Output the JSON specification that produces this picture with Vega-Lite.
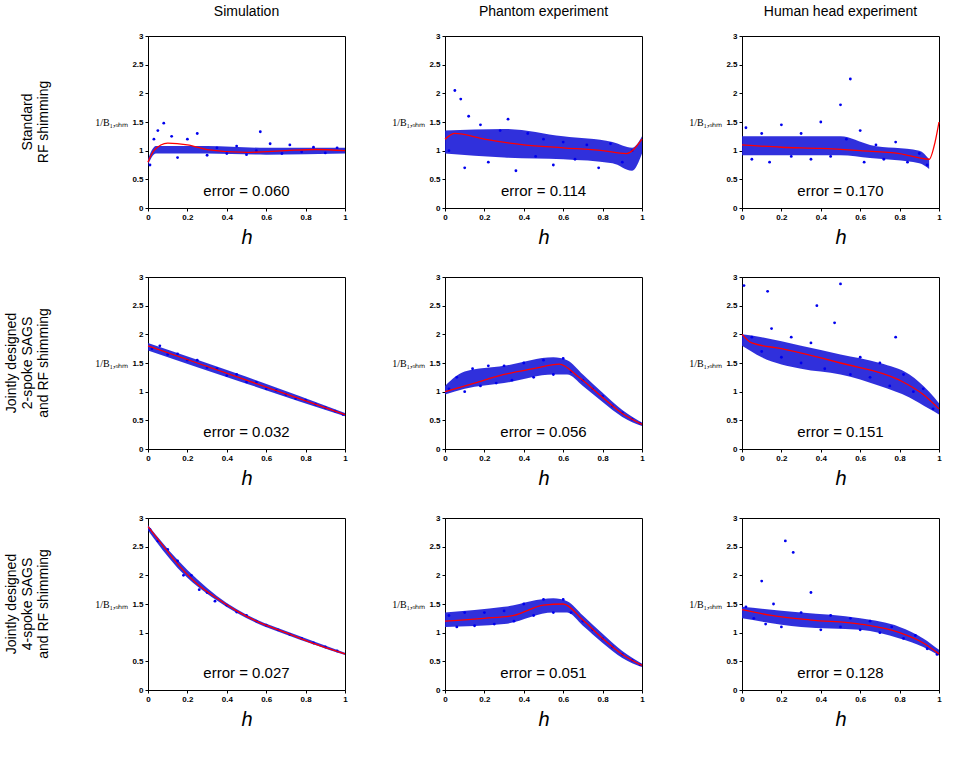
{
  "$schema": "https://vega.github.io/schema/vega-lite/v6.json",
  "background": "white",
  "padding": {"left": 5, "top": 5, "right": 5, "bottom": 5},
  "data": {"values": [
    {"r":"A","c":"S","k":"e","t":"error = 0.060"},
    {"r":"A","c":"P","k":"e","t":"error = 0.114"},
    {"r":"A","c":"H","k":"e","t":"error = 0.170"},
    {"r":"B","c":"S","k":"e","t":"error = 0.032"},
    {"r":"B","c":"P","k":"e","t":"error = 0.056"},
    {"r":"B","c":"H","k":"e","t":"error = 0.151"},
    {"r":"C","c":"S","k":"e","t":"error = 0.027"},
    {"r":"C","c":"P","k":"e","t":"error = 0.051"},
    {"r":"C","c":"H","k":"e","t":"error = 0.128"},

    {"r":"A","c":"S","k":"b","h":0,"v":0.75,"v2":0.85},{"r":"A","c":"S","k":"b","h":0.04,"v":0.95,"v2":1.08},{"r":"A","c":"S","k":"b","h":0.3,"v":0.95,"v2":1.08},{"r":"A","c":"S","k":"b","h":0.6,"v":0.93,"v2":1.05},{"r":"A","c":"S","k":"b","h":1,"v":0.95,"v2":1.05},
    {"r":"A","c":"P","k":"b","h":0,"v":0.95,"v2":1.35},{"r":"A","c":"P","k":"b","h":0.3,"v":0.88,"v2":1.38},{"r":"A","c":"P","k":"b","h":0.6,"v":0.85,"v2":1.25},{"r":"A","c":"P","k":"b","h":0.85,"v":0.78,"v2":1.15},{"r":"A","c":"P","k":"b","h":0.95,"v":0.65,"v2":1.05},{"r":"A","c":"P","k":"b","h":1,"v":0.95,"v2":1.25},
    {"r":"A","c":"H","k":"b","h":0,"v":0.92,"v2":1.25},{"r":"A","c":"H","k":"b","h":0.5,"v":0.92,"v2":1.25},{"r":"A","c":"H","k":"b","h":0.65,"v":0.87,"v2":1.1},{"r":"A","c":"H","k":"b","h":0.9,"v":0.78,"v2":1.0},{"r":"A","c":"H","k":"b","h":0.95,"v":0.68,"v2":0.85},
    {"r":"B","c":"S","k":"b","h":0,"v":1.72,"v2":1.85},{"r":"B","c":"S","k":"b","h":0.5,"v":1.14,"v2":1.26},{"r":"B","c":"S","k":"b","h":1,"v":0.57,"v2":0.63},
    {"r":"B","c":"P","k":"b","h":0,"v":0.95,"v2":1.1},{"r":"B","c":"P","k":"b","h":0.1,"v":1.05,"v2":1.35},{"r":"B","c":"P","k":"b","h":0.3,"v":1.15,"v2":1.45},{"r":"B","c":"P","k":"b","h":0.55,"v":1.3,"v2":1.6},{"r":"B","c":"P","k":"b","h":0.62,"v":1.3,"v2":1.55},{"r":"B","c":"P","k":"b","h":0.7,"v":1.1,"v2":1.3},{"r":"B","c":"P","k":"b","h":0.8,"v":0.82,"v2":0.98},{"r":"B","c":"P","k":"b","h":0.9,"v":0.56,"v2":0.68},{"r":"B","c":"P","k":"b","h":1,"v":0.4,"v2":0.46},
    {"r":"B","c":"H","k":"b","h":0,"v":1.8,"v2":2.0},{"r":"B","c":"H","k":"b","h":0.1,"v":1.6,"v2":1.95},{"r":"B","c":"H","k":"b","h":0.3,"v":1.4,"v2":1.8},{"r":"B","c":"H","k":"b","h":0.5,"v":1.3,"v2":1.65},{"r":"B","c":"H","k":"b","h":0.7,"v":1.1,"v2":1.5},{"r":"B","c":"H","k":"b","h":0.85,"v":0.9,"v2":1.3},{"r":"B","c":"H","k":"b","h":0.95,"v":0.7,"v2":1.0},{"r":"B","c":"H","k":"b","h":1,"v":0.6,"v2":0.8},
    {"r":"C","c":"S","k":"b","h":0,"v":2.78,"v2":2.88},{"r":"C","c":"S","k":"b","h":0.15,"v":2.13,"v2":2.27},{"r":"C","c":"S","k":"b","h":0.35,"v":1.56,"v2":1.64},{"r":"C","c":"S","k":"b","h":0.55,"v":1.17,"v2":1.23},{"r":"C","c":"S","k":"b","h":0.7,"v":0.97,"v2":1.03},{"r":"C","c":"S","k":"b","h":1,"v":0.61,"v2":0.65},
    {"r":"C","c":"P","k":"b","h":0,"v":1.1,"v2":1.35},{"r":"C","c":"P","k":"b","h":0.3,"v":1.15,"v2":1.45},{"r":"C","c":"P","k":"b","h":0.55,"v":1.35,"v2":1.6},{"r":"C","c":"P","k":"b","h":0.62,"v":1.35,"v2":1.55},{"r":"C","c":"P","k":"b","h":0.7,"v":1.12,"v2":1.3},{"r":"C","c":"P","k":"b","h":0.8,"v":0.82,"v2":0.98},{"r":"C","c":"P","k":"b","h":0.9,"v":0.56,"v2":0.68},{"r":"C","c":"P","k":"b","h":1,"v":0.4,"v2":0.46},
    {"r":"C","c":"H","k":"b","h":0,"v":1.25,"v2":1.45},{"r":"C","c":"H","k":"b","h":0.3,"v":1.1,"v2":1.35},{"r":"C","c":"H","k":"b","h":0.6,"v":1.05,"v2":1.25},{"r":"C","c":"H","k":"b","h":0.8,"v":0.9,"v2":1.1},{"r":"C","c":"H","k":"b","h":0.92,"v":0.75,"v2":0.9},{"r":"C","c":"H","k":"b","h":1,"v":0.6,"v2":0.7},

    {"r":"A","c":"S","k":"f","h":0,"v":0.8},{"r":"A","c":"S","k":"f","h":0.03,"v":1.0},{"r":"A","c":"S","k":"f","h":0.1,"v":1.13},{"r":"A","c":"S","k":"f","h":0.2,"v":1.1},{"r":"A","c":"S","k":"f","h":0.3,"v":1.02},{"r":"A","c":"S","k":"f","h":0.5,"v":0.97},{"r":"A","c":"S","k":"f","h":0.7,"v":1.0},{"r":"A","c":"S","k":"f","h":0.85,"v":1.02},{"r":"A","c":"S","k":"f","h":1,"v":1.0},
    {"r":"A","c":"S","k":"p","h":0.01,"v":0.75},{"r":"A","c":"S","k":"p","h":0.03,"v":1.2},{"r":"A","c":"S","k":"p","h":0.05,"v":1.35},{"r":"A","c":"S","k":"p","h":0.08,"v":1.48},{"r":"A","c":"S","k":"p","h":0.12,"v":1.25},{"r":"A","c":"S","k":"p","h":0.15,"v":0.88},{"r":"A","c":"S","k":"p","h":0.2,"v":1.2},{"r":"A","c":"S","k":"p","h":0.25,"v":1.3},{"r":"A","c":"S","k":"p","h":0.3,"v":0.92},{"r":"A","c":"S","k":"p","h":0.35,"v":1.05},{"r":"A","c":"S","k":"p","h":0.4,"v":0.95},{"r":"A","c":"S","k":"p","h":0.45,"v":1.08},{"r":"A","c":"S","k":"p","h":0.5,"v":0.93},{"r":"A","c":"S","k":"p","h":0.55,"v":1.0},{"r":"A","c":"S","k":"p","h":0.57,"v":1.33},{"r":"A","c":"S","k":"p","h":0.62,"v":1.12},{"r":"A","c":"S","k":"p","h":0.68,"v":0.95},{"r":"A","c":"S","k":"p","h":0.72,"v":1.1},{"r":"A","c":"S","k":"p","h":0.78,"v":0.98},{"r":"A","c":"S","k":"p","h":0.84,"v":1.06},{"r":"A","c":"S","k":"p","h":0.9,"v":0.96},{"r":"A","c":"S","k":"p","h":0.96,"v":1.05},
    {"r":"A","c":"P","k":"f","h":0,"v":1.2},{"r":"A","c":"P","k":"f","h":0.05,"v":1.3},{"r":"A","c":"P","k":"f","h":0.2,"v":1.2},{"r":"A","c":"P","k":"f","h":0.4,"v":1.1},{"r":"A","c":"P","k":"f","h":0.6,"v":1.05},{"r":"A","c":"P","k":"f","h":0.8,"v":1.0},{"r":"A","c":"P","k":"f","h":0.92,"v":0.95},{"r":"A","c":"P","k":"f","h":1,"v":1.2},
    {"r":"A","c":"P","k":"p","h":0.02,"v":1.0},{"r":"A","c":"P","k":"p","h":0.05,"v":2.05},{"r":"A","c":"P","k":"p","h":0.08,"v":1.9},{"r":"A","c":"P","k":"p","h":0.1,"v":0.7},{"r":"A","c":"P","k":"p","h":0.12,"v":1.6},{"r":"A","c":"P","k":"p","h":0.18,"v":1.45},{"r":"A","c":"P","k":"p","h":0.22,"v":0.8},{"r":"A","c":"P","k":"p","h":0.28,"v":1.35},{"r":"A","c":"P","k":"p","h":0.32,"v":1.55},{"r":"A","c":"P","k":"p","h":0.36,"v":0.65},{"r":"A","c":"P","k":"p","h":0.42,"v":1.3},{"r":"A","c":"P","k":"p","h":0.46,"v":0.9},{"r":"A","c":"P","k":"p","h":0.5,"v":1.2},{"r":"A","c":"P","k":"p","h":0.55,"v":0.75},{"r":"A","c":"P","k":"p","h":0.6,"v":1.15},{"r":"A","c":"P","k":"p","h":0.66,"v":0.85},{"r":"A","c":"P","k":"p","h":0.72,"v":1.1},{"r":"A","c":"P","k":"p","h":0.78,"v":0.7},{"r":"A","c":"P","k":"p","h":0.84,"v":1.12},{"r":"A","c":"P","k":"p","h":0.9,"v":0.8},{"r":"A","c":"P","k":"p","h":0.95,"v":1.0},
    {"r":"A","c":"H","k":"f","h":0,"v":1.1},{"r":"A","c":"H","k":"f","h":0.2,"v":1.06},{"r":"A","c":"H","k":"f","h":0.4,"v":1.04},{"r":"A","c":"H","k":"f","h":0.6,"v":1.0},{"r":"A","c":"H","k":"f","h":0.8,"v":0.95},{"r":"A","c":"H","k":"f","h":0.95,"v":0.85},{"r":"A","c":"H","k":"f","h":0.98,"v":1.15},{"r":"A","c":"H","k":"f","h":1,"v":1.5},
    {"r":"A","c":"H","k":"p","h":0.02,"v":1.4},{"r":"A","c":"H","k":"p","h":0.05,"v":0.85},{"r":"A","c":"H","k":"p","h":0.1,"v":1.3},{"r":"A","c":"H","k":"p","h":0.14,"v":0.8},{"r":"A","c":"H","k":"p","h":0.2,"v":1.45},{"r":"A","c":"H","k":"p","h":0.25,"v":0.9},{"r":"A","c":"H","k":"p","h":0.3,"v":1.3},{"r":"A","c":"H","k":"p","h":0.35,"v":0.85},{"r":"A","c":"H","k":"p","h":0.4,"v":1.5},{"r":"A","c":"H","k":"p","h":0.45,"v":0.9},{"r":"A","c":"H","k":"p","h":0.5,"v":1.8},{"r":"A","c":"H","k":"p","h":0.53,"v":1.2},{"r":"A","c":"H","k":"p","h":0.55,"v":2.25},{"r":"A","c":"H","k":"p","h":0.6,"v":1.35},{"r":"A","c":"H","k":"p","h":0.62,"v":0.8},{"r":"A","c":"H","k":"p","h":0.68,"v":1.1},{"r":"A","c":"H","k":"p","h":0.72,"v":0.85},{"r":"A","c":"H","k":"p","h":0.78,"v":1.15},{"r":"A","c":"H","k":"p","h":0.84,"v":0.8},{"r":"A","c":"H","k":"p","h":0.9,"v":0.95},{"r":"A","c":"H","k":"p","h":0.94,"v":0.75},
    {"r":"B","c":"S","k":"f","h":0,"v":1.8},{"r":"B","c":"S","k":"f","h":0.5,"v":1.2},{"r":"B","c":"S","k":"f","h":1,"v":0.6},
    {"r":"B","c":"S","k":"p","h":0.02,"v":1.75},{"r":"B","c":"S","k":"p","h":0.06,"v":1.8},{"r":"B","c":"S","k":"p","h":0.1,"v":1.65},{"r":"B","c":"S","k":"p","h":0.15,"v":1.66},{"r":"B","c":"S","k":"p","h":0.2,"v":1.55},{"r":"B","c":"S","k":"p","h":0.25,"v":1.55},{"r":"B","c":"S","k":"p","h":0.3,"v":1.42},{"r":"B","c":"S","k":"p","h":0.35,"v":1.4},{"r":"B","c":"S","k":"p","h":0.4,"v":1.28},{"r":"B","c":"S","k":"p","h":0.45,"v":1.3},{"r":"B","c":"S","k":"p","h":0.5,"v":1.17},{"r":"B","c":"S","k":"p","h":0.55,"v":1.16},{"r":"B","c":"S","k":"p","h":0.6,"v":1.05},{"r":"B","c":"S","k":"p","h":0.65,"v":1.02},{"r":"B","c":"S","k":"p","h":0.7,"v":0.95},{"r":"B","c":"S","k":"p","h":0.75,"v":0.88},{"r":"B","c":"S","k":"p","h":0.8,"v":0.85},{"r":"B","c":"S","k":"p","h":0.85,"v":0.78},{"r":"B","c":"S","k":"p","h":0.9,"v":0.72},{"r":"B","c":"S","k":"p","h":0.95,"v":0.66},{"r":"B","c":"S","k":"p","h":0.99,"v":0.6},
    {"r":"B","c":"P","k":"f","h":0,"v":1.0},{"r":"B","c":"P","k":"f","h":0.15,"v":1.15},{"r":"B","c":"P","k":"f","h":0.3,"v":1.3},{"r":"B","c":"P","k":"f","h":0.45,"v":1.4},{"r":"B","c":"P","k":"f","h":0.58,"v":1.48},{"r":"B","c":"P","k":"f","h":0.68,"v":1.25},{"r":"B","c":"P","k":"f","h":0.8,"v":0.9},{"r":"B","c":"P","k":"f","h":0.9,"v":0.62},{"r":"B","c":"P","k":"f","h":1,"v":0.43},
    {"r":"B","c":"P","k":"p","h":0.02,"v":1.05},{"r":"B","c":"P","k":"p","h":0.06,"v":1.25},{"r":"B","c":"P","k":"p","h":0.1,"v":1.0},{"r":"B","c":"P","k":"p","h":0.14,"v":1.4},{"r":"B","c":"P","k":"p","h":0.18,"v":1.1},{"r":"B","c":"P","k":"p","h":0.22,"v":1.45},{"r":"B","c":"P","k":"p","h":0.26,"v":1.15},{"r":"B","c":"P","k":"p","h":0.3,"v":1.45},{"r":"B","c":"P","k":"p","h":0.34,"v":1.2},{"r":"B","c":"P","k":"p","h":0.4,"v":1.5},{"r":"B","c":"P","k":"p","h":0.45,"v":1.25},{"r":"B","c":"P","k":"p","h":0.5,"v":1.55},{"r":"B","c":"P","k":"p","h":0.55,"v":1.3},{"r":"B","c":"P","k":"p","h":0.6,"v":1.58},{"r":"B","c":"P","k":"p","h":0.64,"v":1.35},{"r":"B","c":"P","k":"p","h":0.7,"v":1.2},{"r":"B","c":"P","k":"p","h":0.75,"v":1.05},{"r":"B","c":"P","k":"p","h":0.8,"v":0.92},{"r":"B","c":"P","k":"p","h":0.85,"v":0.75},{"r":"B","c":"P","k":"p","h":0.9,"v":0.63},{"r":"B","c":"P","k":"p","h":0.95,"v":0.52},{"r":"B","c":"P","k":"p","h":0.99,"v":0.45},
    {"r":"B","c":"H","k":"f","h":0,"v":2.0},{"r":"B","c":"H","k":"f","h":0.05,"v":1.85},{"r":"B","c":"H","k":"f","h":0.2,"v":1.75},{"r":"B","c":"H","k":"f","h":0.5,"v":1.5},{"r":"B","c":"H","k":"f","h":0.8,"v":1.2},{"r":"B","c":"H","k":"f","h":0.92,"v":0.95},{"r":"B","c":"H","k":"f","h":1,"v":0.7},
    {"r":"B","c":"H","k":"p","h":0.01,"v":2.85},{"r":"B","c":"H","k":"p","h":0.05,"v":1.95},{"r":"B","c":"H","k":"p","h":0.1,"v":1.7},{"r":"B","c":"H","k":"p","h":0.13,"v":2.75},{"r":"B","c":"H","k":"p","h":0.15,"v":2.1},{"r":"B","c":"H","k":"p","h":0.2,"v":1.6},{"r":"B","c":"H","k":"p","h":0.25,"v":1.95},{"r":"B","c":"H","k":"p","h":0.3,"v":1.5},{"r":"B","c":"H","k":"p","h":0.35,"v":1.85},{"r":"B","c":"H","k":"p","h":0.38,"v":2.5},{"r":"B","c":"H","k":"p","h":0.42,"v":1.4},{"r":"B","c":"H","k":"p","h":0.47,"v":2.2},{"r":"B","c":"H","k":"p","h":0.5,"v":2.88},{"r":"B","c":"H","k":"p","h":0.55,"v":1.3},{"r":"B","c":"H","k":"p","h":0.6,"v":1.6},{"r":"B","c":"H","k":"p","h":0.65,"v":1.25},{"r":"B","c":"H","k":"p","h":0.7,"v":1.5},{"r":"B","c":"H","k":"p","h":0.75,"v":1.1},{"r":"B","c":"H","k":"p","h":0.78,"v":1.95},{"r":"B","c":"H","k":"p","h":0.82,"v":1.3},{"r":"B","c":"H","k":"p","h":0.87,"v":1.0},{"r":"B","c":"H","k":"p","h":0.92,"v":1.05},{"r":"B","c":"H","k":"p","h":0.97,"v":0.7},
    {"r":"C","c":"S","k":"f","h":0,"v":2.85},{"r":"C","c":"S","k":"f","h":0.08,"v":2.5},{"r":"C","c":"S","k":"f","h":0.15,"v":2.2},{"r":"C","c":"S","k":"f","h":0.25,"v":1.85},{"r":"C","c":"S","k":"f","h":0.35,"v":1.6},{"r":"C","c":"S","k":"f","h":0.45,"v":1.38},{"r":"C","c":"S","k":"f","h":0.55,"v":1.2},{"r":"C","c":"S","k":"f","h":0.7,"v":1.0},{"r":"C","c":"S","k":"f","h":0.85,"v":0.8},{"r":"C","c":"S","k":"f","h":1,"v":0.63},
    {"r":"C","c":"S","k":"p","h":0.01,"v":2.8},{"r":"C","c":"S","k":"p","h":0.05,"v":2.6},{"r":"C","c":"S","k":"p","h":0.1,"v":2.45},{"r":"C","c":"S","k":"p","h":0.15,"v":2.25},{"r":"C","c":"S","k":"p","h":0.18,"v":2.0},{"r":"C","c":"S","k":"p","h":0.22,"v":2.0},{"r":"C","c":"S","k":"p","h":0.26,"v":1.75},{"r":"C","c":"S","k":"p","h":0.3,"v":1.7},{"r":"C","c":"S","k":"p","h":0.34,"v":1.55},{"r":"C","c":"S","k":"p","h":0.4,"v":1.48},{"r":"C","c":"S","k":"p","h":0.45,"v":1.36},{"r":"C","c":"S","k":"p","h":0.5,"v":1.3},{"r":"C","c":"S","k":"p","h":0.55,"v":1.2},{"r":"C","c":"S","k":"p","h":0.6,"v":1.13},{"r":"C","c":"S","k":"p","h":0.66,"v":1.05},{"r":"C","c":"S","k":"p","h":0.72,"v":0.97},{"r":"C","c":"S","k":"p","h":0.78,"v":0.9},{"r":"C","c":"S","k":"p","h":0.84,"v":0.82},{"r":"C","c":"S","k":"p","h":0.9,"v":0.75},{"r":"C","c":"S","k":"p","h":0.96,"v":0.68},
    {"r":"C","c":"P","k":"f","h":0,"v":1.2},{"r":"C","c":"P","k":"f","h":0.2,"v":1.25},{"r":"C","c":"P","k":"f","h":0.35,"v":1.3},{"r":"C","c":"P","k":"f","h":0.5,"v":1.48},{"r":"C","c":"P","k":"f","h":0.6,"v":1.5},{"r":"C","c":"P","k":"f","h":0.7,"v":1.22},{"r":"C","c":"P","k":"f","h":0.8,"v":0.9},{"r":"C","c":"P","k":"f","h":0.9,"v":0.62},{"r":"C","c":"P","k":"f","h":1,"v":0.43},
    {"r":"C","c":"P","k":"p","h":0.02,"v":1.3},{"r":"C","c":"P","k":"p","h":0.06,"v":1.1},{"r":"C","c":"P","k":"p","h":0.1,"v":1.35},{"r":"C","c":"P","k":"p","h":0.15,"v":1.12},{"r":"C","c":"P","k":"p","h":0.2,"v":1.35},{"r":"C","c":"P","k":"p","h":0.25,"v":1.15},{"r":"C","c":"P","k":"p","h":0.3,"v":1.38},{"r":"C","c":"P","k":"p","h":0.35,"v":1.2},{"r":"C","c":"P","k":"p","h":0.4,"v":1.5},{"r":"C","c":"P","k":"p","h":0.45,"v":1.3},{"r":"C","c":"P","k":"p","h":0.5,"v":1.58},{"r":"C","c":"P","k":"p","h":0.55,"v":1.35},{"r":"C","c":"P","k":"p","h":0.6,"v":1.58},{"r":"C","c":"P","k":"p","h":0.64,"v":1.35},{"r":"C","c":"P","k":"p","h":0.7,"v":1.2},{"r":"C","c":"P","k":"p","h":0.75,"v":1.05},{"r":"C","c":"P","k":"p","h":0.8,"v":0.9},{"r":"C","c":"P","k":"p","h":0.85,"v":0.75},{"r":"C","c":"P","k":"p","h":0.9,"v":0.62},{"r":"C","c":"P","k":"p","h":0.95,"v":0.52},{"r":"C","c":"P","k":"p","h":0.99,"v":0.44},
    {"r":"C","c":"H","k":"f","h":0,"v":1.4},{"r":"C","c":"H","k":"f","h":0.15,"v":1.3},{"r":"C","c":"H","k":"f","h":0.35,"v":1.22},{"r":"C","c":"H","k":"f","h":0.6,"v":1.15},{"r":"C","c":"H","k":"f","h":0.8,"v":1.0},{"r":"C","c":"H","k":"f","h":0.92,"v":0.82},{"r":"C","c":"H","k":"f","h":1,"v":0.63},
    {"r":"C","c":"H","k":"p","h":0.02,"v":1.45},{"r":"C","c":"H","k":"p","h":0.06,"v":1.25},{"r":"C","c":"H","k":"p","h":0.1,"v":1.9},{"r":"C","c":"H","k":"p","h":0.12,"v":1.15},{"r":"C","c":"H","k":"p","h":0.16,"v":1.5},{"r":"C","c":"H","k":"p","h":0.2,"v":1.1},{"r":"C","c":"H","k":"p","h":0.22,"v":2.6},{"r":"C","c":"H","k":"p","h":0.26,"v":2.4},{"r":"C","c":"H","k":"p","h":0.3,"v":1.35},{"r":"C","c":"H","k":"p","h":0.35,"v":1.7},{"r":"C","c":"H","k":"p","h":0.4,"v":1.05},{"r":"C","c":"H","k":"p","h":0.45,"v":1.3},{"r":"C","c":"H","k":"p","h":0.5,"v":1.1},{"r":"C","c":"H","k":"p","h":0.55,"v":1.25},{"r":"C","c":"H","k":"p","h":0.6,"v":1.05},{"r":"C","c":"H","k":"p","h":0.65,"v":1.2},{"r":"C","c":"H","k":"p","h":0.7,"v":1.0},{"r":"C","c":"H","k":"p","h":0.76,"v":1.1},{"r":"C","c":"H","k":"p","h":0.82,"v":0.9},{"r":"C","c":"H","k":"p","h":0.88,"v":0.95},{"r":"C","c":"H","k":"p","h":0.94,"v":0.72},{"r":"C","c":"H","k":"p","h":0.99,"v":0.62}
  ]},
  "facet": {
    "row": {"field": "r", "type": "nominal", "sort": ["A","B","C"], "title": null,
      "header": {"labelExpr": "datum.value == 'A' ? ['Standard','RF shimming'] : datum.value == 'B' ? ['Jointly designed','2-spoke SAGS','and RF shimming'] : ['Jointly designed','4-spoke SAGS','and RF shimming']",
        "labelAngle": -90, "labelOrient": "left", "labelFontSize": 14, "labelFont": "Liberation Sans", "labelColor": "black", "labelPadding": 36}},
    "column": {"field": "c", "type": "nominal", "sort": ["S","P","H"], "title": null,
      "header": {"labelExpr": "datum.value == 'S' ? 'Simulation' : datum.value == 'P' ? 'Phantom experiment' : 'Human head experiment'",
        "labelFontSize": 14, "labelFont": "Liberation Sans", "labelColor": "black", "labelPadding": 12}}
  },
  "spacing": {"row": 24, "column": 42},
  "resolve": {"axis": {"x": "independent", "y": "independent"}},
  "spec": {
    "width": 197,
    "height": 172,
    "layer": [
      {"transform": [{"filter": "datum.k == 'b'"}], "mark": {"type": "area", "color": "#1a1ad8", "opacity": 0.9, "interpolate": "monotone"},
        "encoding": {
          "x": {"field": "h", "type": "quantitative", "scale": {"domain": [0, 1]}, "axis": {"title": "h"}},
          "y": {"field": "v", "type": "quantitative", "scale": {"domain": [0, 3]}, "axis": {"title": "1/B₁,ₒₕₘ"}},
          "y2": {"field": "v2"}}},
      {"transform": [{"filter": "datum.k == 'p'"}], "mark": {"type": "point", "filled": true, "size": 8, "color": "#0000ee", "opacity": 1},
        "encoding": {"x": {"field": "h", "type": "quantitative"}, "y": {"field": "v", "type": "quantitative"}}},
      {"transform": [{"filter": "datum.k == 'f'"}], "mark": {"type": "line", "color": "red", "strokeWidth": 1.3, "interpolate": "monotone"},
        "encoding": {"x": {"field": "h", "type": "quantitative"}, "y": {"field": "v", "type": "quantitative"}}},
      {"transform": [{"filter": "datum.k == 'e'"}], "mark": {"type": "text", "fontSize": 15, "font": "Liberation Sans", "color": "black"},
        "encoding": {"x": {"datum": 0.5, "type": "quantitative"}, "y": {"datum": 0.3, "type": "quantitative"}, "text": {"field": "t", "type": "nominal"}}}
    ]
  },
  "config": {
    "view": {"stroke": "black", "strokeWidth": 1},
    "axis": {"domainColor": "black", "tickColor": "black", "labelColor": "black", "titleColor": "black", "grid": false, "labelFontSize": 8, "labelFontWeight": "bold", "tickSize": 3, "labelOverlap": false, "labelFlush": false, "format": "~g"},
    "axisX": {"values": [0,0.2,0.4,0.6,0.8,1], "titleFontStyle": "italic", "titleFontWeight": "normal", "titleFontSize": 20, "titlePadding": 6},
    "axisY": {"values": [0,0.5,1,1.5,2,2.5,3], "titleAngle": 0, "titleFont": "Liberation Serif", "titleFontWeight": "normal", "titleFontSize": 10, "titleAlign": "right", "titleBaseline": "middle", "titleY": 86, "titleX": -20}
  }
}
